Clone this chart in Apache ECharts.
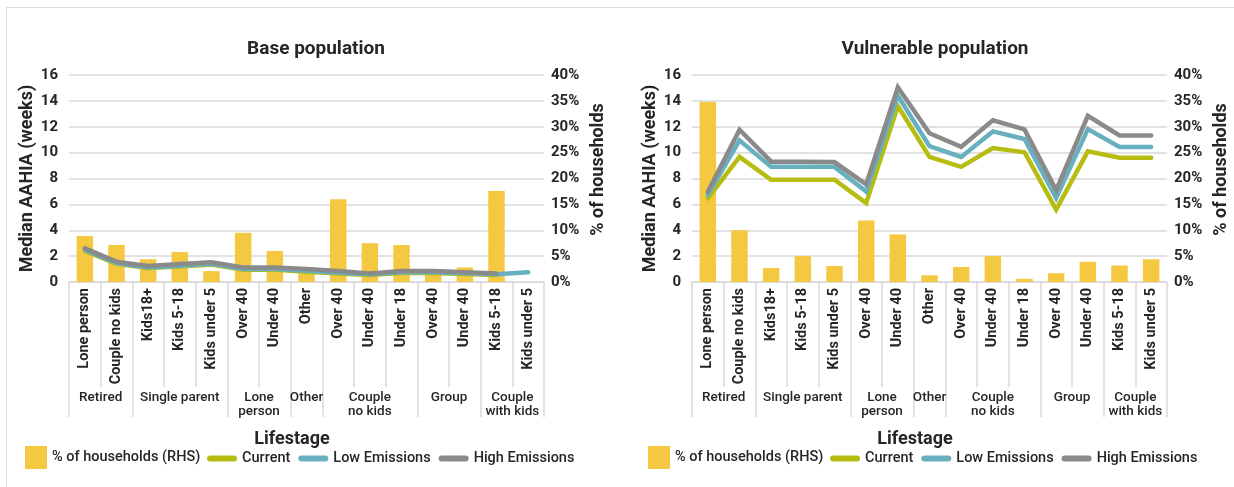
<!DOCTYPE html>
<html>
<head>
<meta charset="utf-8">
<script src="https://cdn.jsdelivr.net/npm/echarts@6/dist/echarts.min.js"></script>
<style>
  html, body { margin: 0; padding: 0; background: #ffffff; }
  #chart { width: 1234px; height: 487px; }
</style>
</head>
<body>
<div id="chart"></div>
<script>
// ---------------- data ----------------
const categories = ['Lone person', 'Couple no kids', 'Kids18+', 'Kids 5-18', 'Kids under 5',
  'Over 40', 'Under 40', 'Other', 'Over 40', 'Under 40', 'Under 18', 'Over 40', 'Under 40',
  'Kids 5-18', 'Kids under 5'];
const groupNames = ['Retired', 'Single parent', 'Lone\nperson', 'Other', 'Couple\nno kids', 'Group', 'Couple\nwith kids'];
const groupSizes = [2, 3, 2, 1, 3, 2, 2];

const panelTitles = ['Base population', 'Vulnerable population'];
const leftTicks = [0, 16, 2];      // min, max, interval (weeks)
const rightTicks = [0, 40, 5];     // min, max, interval (%)

// Base population
const baseShare   = [8.9, 7.15, 4.4, 5.8, 2.1, 9.5, 6.0, 1.7, 16.0, 7.5, 7.15, 1.4, 2.8, 17.6, 0];
const baseCurrent = [2.4, 1.4, 1.08, 1.2, 1.35, 0.95, 0.95, 0.8, 0.66, 0.55, 0.7, 0.7, 0.62, 0.55, null];
const baseLow     = [2.47, 1.46, 1.13, 1.26, 1.41, 1.01, 1.01, 0.86, 0.72, 0.6, 0.76, 0.76, 0.68, 0.6, 0.75];
const baseHigh    = [2.6, 1.57, 1.24, 1.39, 1.52, 1.13, 1.13, 1.0, 0.85, 0.65, 0.85, 0.85, 0.75, 0.65, null];

// Vulnerable population
const vulnShare   = [34.8, 10.0, 2.7, 5.0, 3.1, 11.9, 9.2, 1.3, 2.9, 5.0, 0.6, 1.7, 3.9, 3.2, 4.4];
const vulnCurrent = [6.47, 9.67, 7.9, 7.9, 7.9, 6.1, 13.6, 9.67, 8.9, 10.36, 10.03, 5.6, 10.1, 9.6, 9.6];
const vulnLow     = [6.73, 10.95, 8.9, 8.9, 8.9, 7.0, 14.4, 10.5, 9.67, 11.64, 11.05, 6.5, 11.82, 10.44, 10.44];
const vulnHigh    = [6.98, 11.77, 9.3, 9.3, 9.27, 7.55, 15.05, 11.5, 10.44, 12.5, 11.8, 7.1, 12.85, 11.33, 11.33];

const seriesNames = ['% of households (RHS)', 'Current', 'Low Emissions', 'High Emissions'];
const panelData = [
  [baseShare, baseCurrent, baseLow, baseHigh],
  [vulnShare, vulnCurrent, vulnLow, vulnHigh]
];

// ---------------- styling ----------------
const FONT = 'Roboto, "Noto Sans", sans-serif';
const TXT = '#262626';
const GRID_C = '#d9d9d9';
const colors = ['#f5c842', '#b7bd10', '#66b0c0', '#8a8a8a'];

// group boundaries / centres derived from group sizes
const bounds = [0];
groupSizes.forEach(s => bounds.push(bounds[bounds.length - 1] + s));
const centres = groupSizes.map((s, i) => bounds[i] + s / 2);
function groupLabel(v) {
  for (let i = 0; i < centres.length; i++) {
    if (Math.abs(centres[i] - v) < 1e-6) return groupNames[i];
  }
  return '';
}

const panelOffsets = [0, 623];
const titleX = [311, 930];
const grids = [], xAxes = [], yAxes = [], series = [], titles = [], legends = [];

panelOffsets.forEach((dx, p) => {
  grids.push({ left: 69 + dx, top: 75, width: 475, height: 207 });
  titles.push({
    text: panelTitles[p], left: titleX[p], top: 35, textAlign: 'center',
    textStyle: { fontFamily: FONT, fontSize: 19, fontWeight: 'bold', color: TXT }
  });
  // category axis
  xAxes.push({
    type: 'category', gridIndex: p, data: categories, position: 'bottom', boundaryGap: true,
    axisLine: { show: true, lineStyle: { color: GRID_C, width: 1.5 } },
    axisTick: { show: true, interval: 0, length: 105, lineStyle: { color: GRID_C, width: 1.5 } },
    axisLabel: { interval: 0, rotate: 90, margin: 6, fontFamily: FONT, fontSize: 14.5, fontWeight: 'bold', color: TXT },
    splitLine: { show: false }
  });
  // group axis
  xAxes.push({
    type: 'value', gridIndex: p, min: 0, max: categories.length, position: 'bottom',
    axisLine: { show: false }, splitLine: { show: false },
    axisTick: { show: true, customValues: bounds, length: 135, lineStyle: { color: GRID_C, width: 1.5 } },
    axisLabel: { customValues: centres, formatter: groupLabel, margin: 109, fontFamily: FONT,
      fontSize: 13.5, fontWeight: 500, color: TXT, lineHeight: 14 },
    name: 'Lifestage', nameLocation: 'middle', nameGap: 148,
    nameTextStyle: { fontFamily: FONT, fontSize: 18, fontWeight: 'bold', color: TXT, padding: [0, 29, 0, 0] }
  });
  yAxes.push({
    type: 'value', gridIndex: p, min: leftTicks[0], max: leftTicks[1], interval: leftTicks[2], position: 'left',
    axisLine: { show: false }, axisTick: { show: false },
    axisLabel: { margin: 11, fontFamily: FONT, fontSize: 15, fontWeight: 'bold', color: TXT },
    splitLine: { show: true, lineStyle: { color: GRID_C, width: 1.5 } },
    name: 'Median AAHIA (weeks)', nameLocation: 'middle', nameGap: 33, nameRotate: 90,
    nameTextStyle: { fontFamily: FONT, fontSize: 18, fontWeight: 'bold', color: TXT }
  });
  yAxes.push({
    type: 'value', gridIndex: p, min: rightTicks[0], max: rightTicks[1], interval: rightTicks[2], position: 'right',
    axisLine: { show: false }, axisTick: { show: false },
    axisLabel: { margin: 7, formatter: '{value}%', fontFamily: FONT, fontSize: 15, fontWeight: 'bold', color: TXT },
    splitLine: { show: false },
    name: '% of households', nameLocation: 'middle', nameGap: 45, nameRotate: 90,
    nameTextStyle: { fontFamily: FONT, fontSize: 18, fontWeight: 'bold', color: TXT, padding: [0, 0, 0, 18] }
  });

  const d = panelData[p];
  series.push({
    name: seriesNames[0], type: 'bar', xAxisIndex: 2 * p, yAxisIndex: 2 * p + 1,
    data: d[0], barWidth: '52%', itemStyle: { color: colors[0] }, z: 1
  });
  for (let k = 1; k <= 3; k++) {
    series.push({
      name: seriesNames[k], type: 'line', xAxisIndex: 2 * p, yAxisIndex: 2 * p,
      data: d[k], symbol: 'none', showSymbol: false, connectNulls: false,
      lineStyle: { color: colors[k], width: 4.5, cap: 'round', join: 'miter' },
      itemStyle: { color: colors[k] }, z: 2 + k
    });
  }

  legends.push({
    left: 25 + dx, top: 446, padding: 0, itemWidth: 22, itemHeight: 23, icon: 'rect',
    data: [seriesNames[0]], selectedMode: false,
    textStyle: { fontFamily: FONT, fontSize: 14.5, fontWeight: 500, color: TXT }
  });
  legends.push({
    left: 207 + dx, top: 451, padding: 0, itemWidth: 30, itemHeight: 6, itemGap: 8,
    icon: 'path://M3,0 L27,0 A3,3 0 0 1 27,6 L3,6 A3,3 0 0 1 3,0 Z',
    data: seriesNames.slice(1), selectedMode: false,
    textStyle: { fontFamily: FONT, fontSize: 14.5, fontWeight: 500, color: TXT }
  });
});

const chart = echarts.init(document.getElementById('chart'), null, { renderer: 'canvas' });
chart.setOption({
  backgroundColor: '#ffffff',
  animation: false,
  title: titles,
  legend: legends,
  grid: grids,
  xAxis: xAxes,
  yAxis: yAxes,
  series: series,
  graphic: [{
    type: 'rect', silent: true,
    shape: { x: 6.5, y: 7.5, width: 1400, height: 700 },
    style: { fill: 'none', stroke: '#dcdcdc', lineWidth: 1 }
  }]
});
</script>
</body>
</html>
